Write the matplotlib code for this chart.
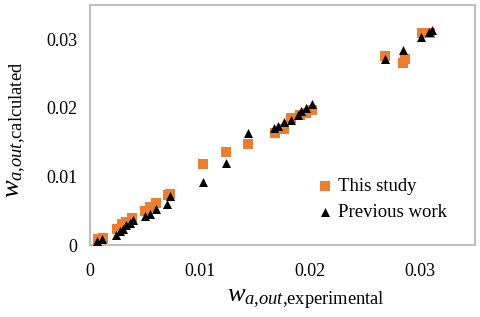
import matplotlib.pyplot as plt

plt.rcParams['font.family'] = 'Liberation Serif'
plt.rcParams['mathtext.fontset'] = 'custom'
plt.rcParams['mathtext.rm'] = 'Liberation Serif'
plt.rcParams['mathtext.it'] = 'Liberation Serif:italic'

# this study (orange squares)
study_x = [0.00076, 0.00115, 0.0025, 0.0029, 0.0033, 0.0038, 0.0050, 0.0055, 0.0060,
           0.0071, 0.0073, 0.0103, 0.0124, 0.0144, 0.0168, 0.0176, 0.0183, 0.0191,
           0.0196, 0.0202, 0.0268, 0.0285, 0.0286, 0.0302, 0.0309]
study_y = [0.00083, 0.00107, 0.0024, 0.0031, 0.0034, 0.0040, 0.0050, 0.0056, 0.0062,
           0.0073, 0.0074, 0.0118, 0.0135, 0.0148, 0.0164, 0.0169, 0.0185, 0.0190,
           0.0192, 0.0197, 0.0275, 0.0265, 0.0272, 0.0309, 0.0309]

# previous work (black triangles)
prev_x = [0.0006, 0.0011, 0.0024, 0.0027, 0.0030, 0.0033, 0.0036, 0.0039, 0.0050,
          0.0055, 0.0060, 0.0070, 0.0073, 0.0103, 0.0124, 0.0144, 0.0167, 0.0171,
          0.0176, 0.0183, 0.0189, 0.0192, 0.0196, 0.0202, 0.0268, 0.0285, 0.0301,
          0.0308, 0.0311]
prev_y = [0.0006, 0.0009, 0.0015, 0.0020, 0.0024, 0.0029, 0.0032, 0.0036, 0.0042,
          0.0046, 0.0052, 0.0060, 0.0071, 0.0092, 0.0120, 0.0164, 0.0170, 0.0173,
          0.0179, 0.0183, 0.0190, 0.0195, 0.0200, 0.0205, 0.0271, 0.0284, 0.0303,
          0.0311, 0.0313]

ticks = [0, 0.01, 0.02, 0.03]
tick_labels = ['0', '0.01', '0.02', '0.03']

fig = plt.figure(figsize=(4.8, 3.17), dpi=100)
ax = fig.add_axes([0.1875, 0.227, 0.802, 0.757])

ax.scatter(study_x, study_y, marker='s', s=50, color='#ED7D31', linewidths=0,
           label='This study', zorder=2)
ax.scatter(prev_x, prev_y, marker='^', s=42, color='black', linewidths=0,
           label='Previous work', zorder=3)

ax.set_xlim(0, 0.035)
ax.set_ylim(0, 0.035)
ax.set_xticks(ticks)
ax.set_xticklabels(tick_labels)
ax.set_yticks(ticks)
ax.set_yticklabels(tick_labels)
ax.tick_params(length=0, labelsize=13)
ax.tick_params(axis='x', pad=13)
ax.tick_params(axis='y', pad=9)

for s in ax.spines.values():
    s.set_color('#BFBFBF')
    s.set_linewidth(1.5)

ax.set_xlabel(r'$w_{a{,}out{,}\mathrm{experimental}}$', fontsize=19)
ax.set_ylabel(r'$w_{a{,}out{,}\mathrm{calculated}}$', fontsize=19)
ax.xaxis.set_label_coords(0.56, -0.18)
ax.yaxis.set_label_coords(-0.16, 0.48)

ax.legend(loc='lower left', bbox_to_anchor=(0.547, 0.045), frameon=False,
          fontsize=13.5, handletextpad=0.1, labelspacing=0.5, borderpad=0.2,
          handlelength=1.2)

fig.savefig('out.png', dpi=100)
